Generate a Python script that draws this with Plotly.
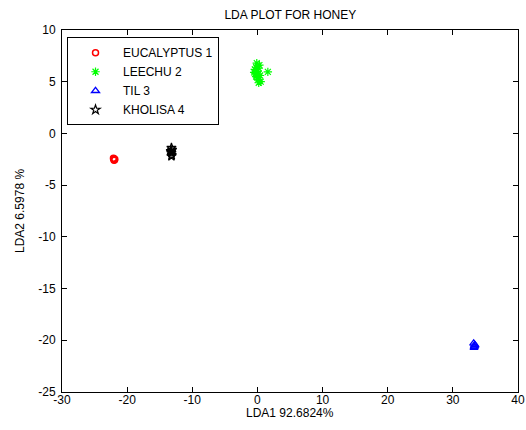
import plotly.graph_objects as go

# Data
euc_x = [-22.1, -21.9, -22.0, -22.05, -21.95, -22.0]
euc_y = [-2.4, -2.5, -2.6, -2.45, -2.55, -2.5]

lee_x = [0.0, -0.3, 0.2, -0.2, 0.3, 0.1, -0.4, 0.5, 0.2, -0.1, 1.6, 0.4, -0.5, 0.0, -0.2, 0.1]
lee_y = [6.0, 5.8, 6.3, 5.5, 6.6, 5.2, 6.2, 5.0, 4.9, 6.8, 5.95, 5.6, 5.9, 5.4, 6.4, 5.7]

til_x = [33.2, 33.4, 33.3, 33.25, 33.35]
til_y = [-20.3, -20.5, -20.6, -20.7, -20.45]

kho_x = [-13.2, -13.1, -13.3, -13.2, -13.15, -13.25, -13.2]
kho_y = [-1.4, -1.6, -1.7, -1.9, -2.1, -1.8, -2.2]

names = ["EUCALYPTUS 1", "LEECHU 2", "TIL 3", "KHOLISA 4"]

x_ticks = [-30, -20, -10, 0, 10, 20, 30, 40]
y_ticks = [-25, -20, -15, -10, -5, 0, 5, 10]

x_title = "LDA1 92.6824%"
y_title = "LDA2 6.5978 %"

FONT = "Liberation Sans, Arial, sans-serif"

fig = go.Figure()
fig.add_trace(go.Scatter(x=euc_x, y=euc_y, mode="markers", name=names[0],
                         marker=dict(symbol="circle-open", color="red", size=6, line=dict(width=1.5, color="red"))))
fig.add_trace(go.Scatter(x=lee_x, y=lee_y, mode="markers", name=names[1],
                         marker=dict(symbol="asterisk-open", color="#00ff00", size=7, line=dict(width=1.2, color="#00ff00"))))
fig.add_trace(go.Scatter(x=til_x, y=til_y, mode="markers", name=names[2],
                         marker=dict(symbol="triangle-up-open", color="blue", size=7, line=dict(width=1.3, color="blue"))))
fig.add_trace(go.Scatter(x=kho_x, y=kho_y, mode="markers", name=names[3],
                         marker=dict(symbol="star-open", color="black", size=7, line=dict(width=1.2, color="black"))))

axis_common = dict(showline=True, linecolor="black", linewidth=1, mirror="ticks",
                   ticks="inside", ticklen=5, tickcolor="black", showgrid=False, zeroline=False,
                   automargin=False,
                   tickfont=dict(family=FONT, size=12, color="black"))

fig.update_layout(
    width=526, height=430,
    margin=dict(l=62, r=8, t=30, b=38),
    paper_bgcolor="white", plot_bgcolor="white",
    font=dict(family=FONT, size=12, color="black"),
    title=dict(text="LDA PLOT FOR HONEY", x=0.552, xanchor="center", y=0.965, yanchor="middle",
               font=dict(family=FONT, size=12, color="black")),
    xaxis=dict(range=[-30, 40], tickvals=x_ticks, ticktext=[str(v) for v in x_ticks],
               ticklabelstandoff=-3, **axis_common),
    yaxis=dict(range=[-25, 10], tickvals=y_ticks, ticktext=[str(v) for v in y_ticks],
               ticklabelstandoff=3, **axis_common),
    legend=dict(x=0.011, y=0.98, xanchor="left", yanchor="top", bordercolor="black", borderwidth=1,
                bgcolor="white", font=dict(family=FONT, size=12, color="black"), itemwidth=45,
                tracegroupgap=0),
    showlegend=True,
)

fig.add_annotation(text=x_title, xref="paper", yref="paper", x=0.5, y=0, yshift=-21,
                   xanchor="center", yanchor="middle", showarrow=False,
                   font=dict(family=FONT, size=12, color="black"))
fig.add_annotation(text=y_title, xref="paper", yref="paper", x=0, y=0.5, xshift=-42,
                   xanchor="center", yanchor="middle", textangle=-90, showarrow=False,
                   font=dict(family=FONT, size=12, color="black"))

fig.write_html("out.html")
